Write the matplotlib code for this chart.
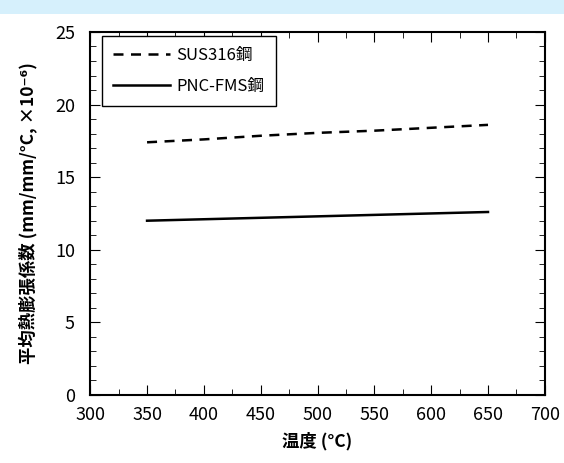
import matplotlib
matplotlib.use('Agg')
import matplotlib.pyplot as plt
from matplotlib.patches import Rectangle
from matplotlib.ticker import MultipleLocator

plt.rcParams['font.family'] = ['Noto Sans CJK JP', 'DejaVu Sans']

# 温度 (°C) と平均熱膨張係数
temp = [350, 400, 450, 500, 550, 600, 650]
sus316 = [17.4, 17.6, 17.85, 18.05, 18.2, 18.4, 18.6]
pnc_fms = [12.0, 12.1, 12.2, 12.3, 12.4, 12.5, 12.6]
labels = ['SUS316鋼', 'PNC-FMS鋼']

fig = plt.figure(figsize=(5.64, 4.63), dpi=100)
# 上部の水色の帯
fig.patches.append(Rectangle((0, 1 - 14 / 463), 1, 14 / 463, transform=fig.transFigure,
                             facecolor='#d6f0fc', edgecolor='none', zorder=0))
ax = fig.add_axes([0.16, 0.147, 0.806, 0.784])

ax.plot(temp, sus316, color='black', lw=1.8, linestyle=(0, (4, 3)), label=labels[0])
ax.plot(temp, pnc_fms, color='black', lw=1.8, label=labels[1])

ax.set_xlim(300, 700)
ax.set_ylim(0, 25)
ax.xaxis.set_major_locator(MultipleLocator(50))
ax.xaxis.set_minor_locator(MultipleLocator(25))
ax.yaxis.set_major_locator(MultipleLocator(5))
ax.yaxis.set_minor_locator(MultipleLocator(1))
ax.tick_params(which='both', direction='in', top=True, right=True, labelsize=13)
ax.tick_params(which='major', length=7)
ax.tick_params(which='minor', length=4)
ax.tick_params(axis='x', pad=8)
ax.tick_params(axis='y', pad=11)
for s in ax.spines.values():
    s.set_linewidth(1.5)

ax.set_xlabel('温度 (°C)', fontsize=12.5, fontweight='bold', labelpad=6)
ax.set_ylabel('平均熱膨張係数 (mm/mm/°C, ×10⁻⁶)', fontsize=12.5, fontweight='bold', labelpad=12)

leg = ax.legend(loc='upper left', bbox_to_anchor=(0.025, 0.99), borderaxespad=0,
                fontsize=12, fancybox=False, edgecolor='black',
                handlelength=3.4, handletextpad=0.4, labelspacing=0.8, borderpad=0.7,
                framealpha=1)
leg.get_frame().set_linewidth(1.0)

fig.savefig('out.png', dpi=100)
